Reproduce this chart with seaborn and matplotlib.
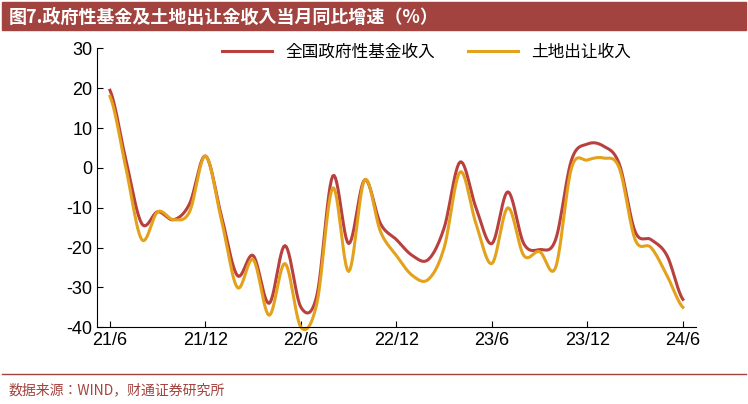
import glob, os
import numpy as np
import matplotlib
matplotlib.use("Agg")
import matplotlib.pyplot as plt
from matplotlib import font_manager
from matplotlib.ft2font import FT2Font
import seaborn as sns

cands = set(f.fname for f in font_manager.fontManager.ttflist)
for d in ["/usr/share/fonts", "/usr/local/share/fonts", os.path.expanduser("~/.fonts"),
          os.path.expanduser("~/.local/share/fonts")]:
    for ext in ("ttf", "otf", "ttc", "otc", "TTF", "OTF"):
        cands.update(glob.glob(os.path.join(d, "**", "*." + ext), recursive=True))
cjk_file = None
for f in sorted(cands, key=lambda s: ("CJK" not in s, "SC" not in s, s)):
    try:
        if ord("图") in FT2Font(f).get_charmap():
            cjk_file = f
            break
    except Exception:
        pass
if cjk_file:
    font_manager.fontManager.addfont(cjk_file)
    cjk_name = font_manager.FontProperties(fname=cjk_file).get_name()
else:
    cjk_name = "Noto Sans CJK SC"
plt.rcParams["font.family"] = ["Liberation Sans"]
plt.rcParams["axes.unicode_minus"] = False

months = [f"{y}/{m}" for y, m in
          [(21, m) for m in range(6, 13)] + [(22, m) for m in range(1, 13)] +
          [(23, m) for m in range(1, 13)] + [(24, m) for m in range(1, 7)]]
gov_fund = [19.5, 2, -14, -11, -13, -9, 3, -12, -27, -22, -34, -19.5, -35, -32, -2, -19, -3, -14, -18,
            -22, -23, -15, 1.5, -10, -19, -6, -19, -20.5, -18, 2, 6, 5.5, 1, -16, -18, -22, -33]
land = [18, 0, -18, -11, -13, -11, 3, -13, -30, -23, -37, -24, -40, -34, -5, -26, -3, -16, -22,
        -27, -28, -20, -1, -14, -24, -10, -22, -21, -25, 0, 2, 2.5, 0, -18, -20, -27, -35]
tick_labels = ["21/6", "21/12", "22/6", "22/12", "23/6", "23/12", "24/6"]
series_names = ["全国政府性基金收入", "土地出让收入"]
colors = ["#b8413f", "#e4a11b"]

def smooth(y, n=12):
    y = np.asarray(y, float)
    p = np.concatenate([[y[0]], y, [y[-1]]])
    xs, ys = [], []
    for i in range(1, len(p) - 2):
        t = np.linspace(0, 1, n, endpoint=False)
        p0, p1, p2, p3 = p[i-1], p[i], p[i+1], p[i+2]
        v = 0.5 * ((2*p1) + (-p0+p2)*t + (2*p0-5*p1+4*p2-p3)*t**2 + (-p0+3*p1-3*p2+p3)*t**3)
        xs.append(i - 1 + t); ys.append(v)
    xs.append([len(y) - 1]); ys.append([y[-1]])
    return np.concatenate(xs), np.concatenate(ys)

fig = plt.figure(figsize=(7.48, 4.04), dpi=100)
ax = fig.add_axes([0.13, 0.19, 0.80, 0.69])
for vals, name, c in zip([gov_fund, land], series_names, colors):
    xs, ys = smooth(vals)
    sns.lineplot(x=xs, y=ys, ax=ax, color=c, lw=2.2, label=name, sort=False, clip_on=False)

ax.set_ylim(-40, 30)
ax.set_yticks(range(-40, 31, 10))
ax.set_xlim(-0.8, len(months) - 0.2)
ax.set_xticks([months.index(t) for t in tick_labels])
ax.set_xticklabels(tick_labels)
ax.tick_params(labelsize=13, direction="in", length=4)
for s in ["top", "right"]:
    ax.spines[s].set_visible(False)
ax.legend(loc="upper center", ncol=2, frameon=False, bbox_to_anchor=(0.55, 1.07), handlelength=3,
          prop={"family": cjk_name, "size": 12})

fig.patches.append(plt.Rectangle((0.003, 0.925), 0.994, 0.07, transform=fig.transFigure, color="#a3433f"))
fig.text(0.012, 0.958, "图7.政府性基金及土地出让金收入当月同比增速（%）", color="white", fontsize=13,
         va="center", weight="bold", family=cjk_name)
fig.add_artist(plt.Line2D([0.003, 0.997], [0.075, 0.075], color="#a3433f", lw=1))
fig.text(0.012, 0.035, "数据来源：WIND，财通证券研究所", color="#a3433f", fontsize=10, va="center", family=cjk_name)
fig.savefig("out.png", dpi=100)
